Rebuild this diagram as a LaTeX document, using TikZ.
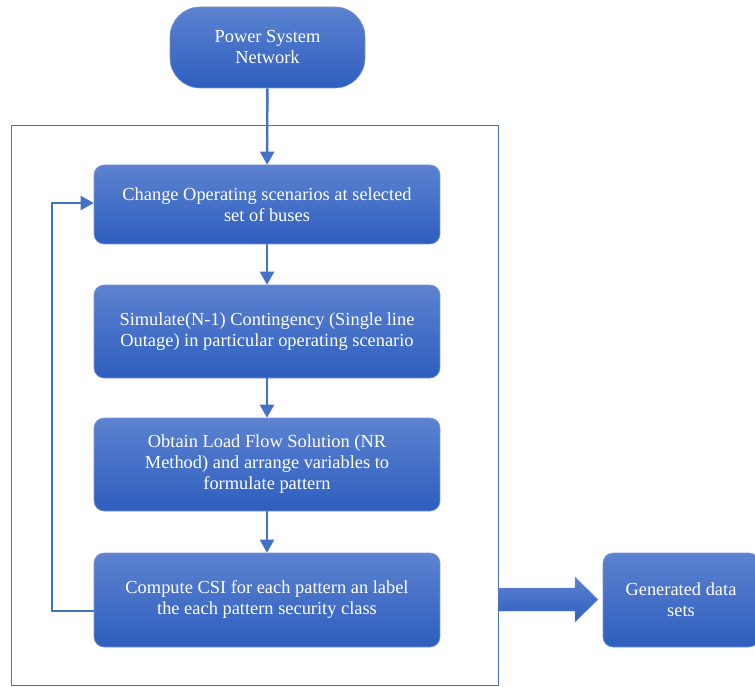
\documentclass[tikz,border=0pt]{standalone}
\usepackage{fontspec}
\setmainfont{Liberation Serif}
\usetikzlibrary{arrows.meta}
\definecolor{boxtop}{RGB}{92,130,208}
\definecolor{boxbot}{RGB}{46,94,190}
\definecolor{edgeblue}{RGB}{68,114,196}
\definecolor{rimblue}{RGB}{120,150,215}
\tikzset{
  flowbox/.style={draw=rimblue, line width=0.6pt, top color=boxtop, bottom color=boxbot,
    rounded corners=10pt, text=white, align=center, font=\fontsize{18.4}{21}\selectfont,
    inner sep=0pt, execute at begin node={\rule{0pt}{21pt}}},
  flowarrow/.style={draw=edgeblue, line width=2.4pt, -{Triangle[length=13pt,width=14pt]}},
}
\begin{document}
\begin{tikzpicture}[x=1pt,y=-1pt]
\useasboundingbox (0,0) rectangle (755,687);
% outer frame
\draw[edgeblue, line width=1pt] (11,126) rectangle (498,685);
\coordinate (frameE) at (498,600);
% nodes
\node[flowbox, rounded corners=30pt, minimum width=195pt, minimum height=81pt] (net) at (267.5,47.5) {Power System\\Network};
\node[flowbox, minimum width=346pt, minimum height=79pt] (change) at (267,204.5) {Change Operating scenarios at selected\\set of buses};
\node[flowbox, minimum width=346pt, minimum height=93pt] (sim) at (267,331.5) {Simulate(N-1) Contingency (Single line\\Outage) in particular operating scenario};
\node[flowbox, minimum width=346pt, minimum height=93pt] (flow) at (267,464.5) {Obtain Load Flow Solution (NR\\Method) and arrange variables to\\formulate pattern};
\node[flowbox, minimum width=346pt, minimum height=94pt] (csi) at (267,600) {Compute CSI for each pattern an label\\the each pattern security class};
\node[flowbox, minimum width=156pt, minimum height=94pt] (data) at (681,600) {Generated data\\sets};
% connectors
\draw[flowarrow] (net) -- (change);
\draw[flowarrow] (change) -- (sim);
\draw[flowarrow] (sim) -- (flow);
\draw[flowarrow] (flow) -- (csi);
\draw[edgeblue, line width=1.4pt] (csi.west |- 0,611) -- (52,611) -- (52,203);
\draw[flowarrow] (51.3,203) -- (change.west |- 0,203);
% big arrow out of the frame
\path[top color=boxtop, bottom color=boxbot, draw=rimblue, line width=0.4pt]
  (frameE |- 0,588) -- (575,588) -- (575,577) -- (598,599.5) -- (575,622) -- (575,611) -- (frameE |- 0,611) -- cycle;
\end{tikzpicture}
\end{document}
